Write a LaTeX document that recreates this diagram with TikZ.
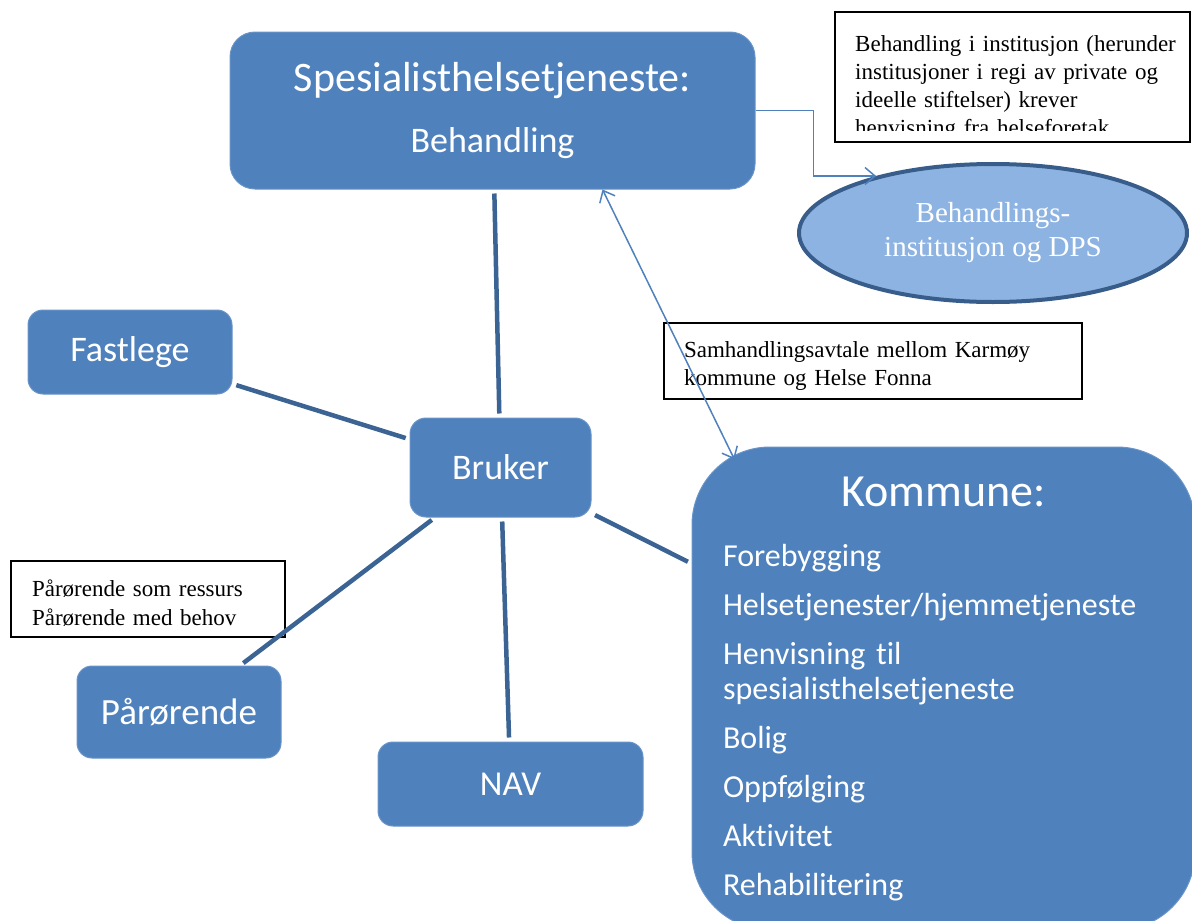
\documentclass[tikz,border=0pt]{standalone}
\usepackage{fontspec}
\setmainfont{Liberation Serif}
\newfontfamily\boxfont[Ligatures=NoCommon]{Carlito}
\usepackage{tikz}
\usetikzlibrary{arrows.meta,shapes.geometric}
\definecolor{boxblue}{HTML}{4F81BD}
\definecolor{linkblue}{HTML}{3B6494}
\definecolor{rimblue}{HTML}{385D8A}
\definecolor{dpsblue}{HTML}{8DB3E2}
\newcommand*{\Size}[2]{\fontsize{#1}{#2}\selectfont}

\begin{document}
\begin{tikzpicture}[x=1pt,y=-1pt,>={Straight Barb[length=10pt,width=17pt]}]
\tikzstyle{place}=[rectangle,rounded corners=15pt,fill=boxblue,draw=boxblue!85!white,line width=1pt,text=white,align=center,inner sep=0pt]
\tikzstyle{note}=[rectangle,draw=black,line width=1.2pt,fill=white,inner sep=0pt]
\tikzstyle{notetext}=[font=\Size{23}{28},align=left,inner sep=0pt]
\tikzstyle{link}=[linkblue,line width=4.5pt,shorten <=4pt,shorten >=4pt]
\tikzstyle{flow}=[boxblue,line width=1.5pt]

\useasboundingbox (0,0) rectangle (1192,921);

\node at (492.5,110.5) [place, minimum width=525pt, minimum height=157pt, rounded corners=25pt, font=\boxfont] (spes) {\Size{42}{50}Spesialisthelsetjeneste:\\[28pt]\Size{36}{43}Behandling};

\node at (130,352) [place, minimum width=204pt, minimum height=84pt, font=\boxfont\Size{36}{43}] (fastlege) {Fastlege};

\node at (500.5,467.5) [place, minimum width=181pt, minimum height=99pt, rounded corners=16pt, font=\boxfont\Size{36}{43}] (bruker) {Bruker};

\node at (179,712) [place, minimum width=204pt, minimum height=92pt, font=\boxfont\Size{37}{43}] (parorende) {Pårørende};

\node at (510.5,784) [place, minimum width=265pt, minimum height=84pt, font=\boxfont\Size{35}{40}] (nav) {NAV};

\node at (943.5,688.5) [place, minimum width=503pt, minimum height=483pt, rounded corners=78pt, text width=441pt, align=left, font=\boxfont\Size{32}{35}] (kommune) {\makebox[441pt]{\Size{46}{50}Kommune:}\\[25pt]
Forebygging\\[14pt]
Helsetjenester/hjemmetjeneste\\[14pt]
Henvisning til\\spesialisthelsetjeneste\\[14pt]
Bolig\\[14pt]
Oppfølging\\[14pt]
Aktivitet\\[14pt]
Rehabilitering};

\node at (993,233) [ellipse, minimum width=388pt, minimum height=138pt, fill=dpsblue, draw=rimblue, line width=4pt, text=white, align=center, font=\Size{29}{34}] (dps) {Behandlings-\\institusjon og DPS};

\node at (1012.5,77) [note, minimum width=355pt, minimum height=130pt] (inst_note) {};
\begin{scope}
\clip (inst_note.north west) rectangle ([yshift=12pt]inst_note.south east);
\node at (855,35.5) [notetext, anchor=north west, text width=336pt] (inst_text) {Behandling i institusjon (herunder\\institusjoner i regi av private og\\ideelle stiftelser) krever\\henvisning fra helseforetak};
\end{scope}

\node at (873,361) [note, notetext, minimum width=418pt, minimum height=76pt, text width=378pt] (avtale) {\rule{0pt}{25pt}Samhandlingsavtale mellom Karmøy\\kommune og Helse Fonna};

\node at (148,599) [note, notetext, minimum width=274pt, minimum height=76pt, text width=232pt] (rolle) {\rule{0pt}{25pt}Pårørende som ressurs\\[1pt]Pårørende med behov};

\draw[link] (spes) -- (bruker);
\draw[link] (fastlege) -- (bruker);
\draw[link] (bruker) -- (kommune);
\draw[link] (bruker) -- (parorende);
\draw[link] (bruker) -- (nav);

\draw[flow,->] (spes.east) -- ++(58,0) |- (dps.154);
\draw[flow,<->] ([xshift=110pt]spes.south) -- ([shift={(43,13)}]kommune.north west);

\end{tikzpicture}
\end{document}
